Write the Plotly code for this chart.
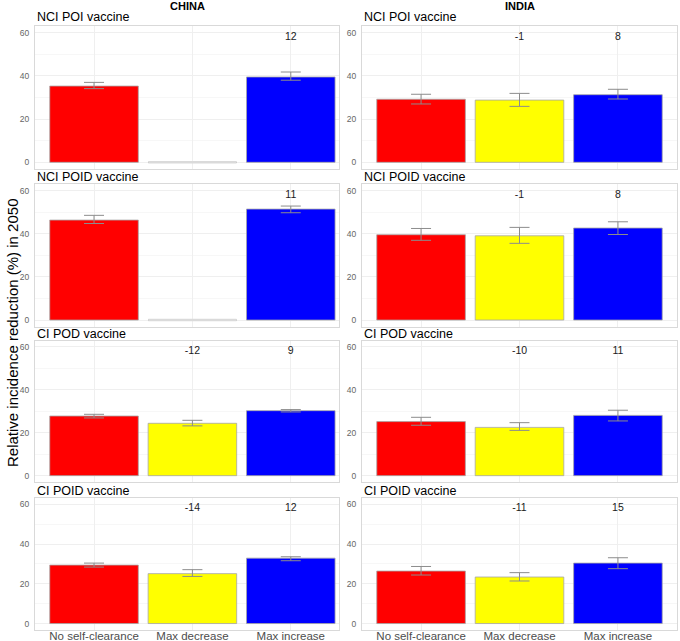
import plotly.graph_objects as go

W, H = 680, 641

CATEGORIES = ["No self-clearance", "Max decrease", "Max increase"]
BAR_COLORS = ["#ff0000", "#ffff00", "#0000ff"]
COUNTRIES = ["CHINA", "INDIA"]
VACCINES = ["NCI POI vaccine", "NCI POID vaccine", "CI POD vaccine", "CI POID vaccine"]

# values (% relative incidence reduction in 2050), lower and upper bounds
china_nci_poi = [35.3, 0.0, 39.5]
china_nci_poi_lo = [34.1, None, 38.0]
china_nci_poi_hi = [37.0, None, 41.8]

china_nci_poid = [46.4, 0.0, 51.5]
china_nci_poid_lo = [44.8, None, 49.8]
china_nci_poid_hi = [48.6, None, 52.9]

china_ci_pod = [27.8, 24.4, 30.3]
china_ci_pod_lo = [26.9, 23.2, 29.7]
china_ci_pod_hi = [28.6, 25.8, 30.8]

china_ci_poid = [29.4, 25.1, 32.9]
china_ci_poid_lo = [28.4, 23.7, 31.6]
china_ci_poid_hi = [30.4, 27.1, 33.6]

india_nci_poi = [29.2, 28.8, 31.3]
india_nci_poi_lo = [27.0, 25.9, 29.3]
india_nci_poi_hi = [31.5, 31.9, 33.8]

india_nci_poid = [39.6, 39.1, 42.7]
india_nci_poid_lo = [37.0, 35.6, 39.7]
india_nci_poid_hi = [42.5, 43.0, 45.6]

india_ci_pod = [25.2, 22.5, 28.1]
india_ci_pod_lo = [23.5, 21.1, 25.5]
india_ci_pod_hi = [27.2, 24.7, 30.5]

india_ci_poid = [26.4, 23.4, 30.4]
india_ci_poid_lo = [24.4, 21.4, 27.6]
india_ci_poid_hi = [28.7, 25.6, 33.1]

# percent change labels relative to no self-clearance
china_nci_poi_lab = ["", "", "12"]
china_nci_poid_lab = ["", "", "11"]
china_ci_pod_lab = ["", "-12", "9"]
china_ci_poid_lab = ["", "-14", "12"]
india_nci_poi_lab = ["", "-1", "8"]
india_nci_poid_lab = ["", "-1", "8"]
india_ci_pod_lab = ["", "-10", "11"]
india_ci_poid_lab = ["", "-11", "15"]

LABEL_Y = 57.8
Y_TICKS = [0, 20, 40, 60]

panels = [
    [(china_nci_poi, china_nci_poi_lo, china_nci_poi_hi, china_nci_poi_lab),
     (india_nci_poi, india_nci_poi_lo, india_nci_poi_hi, india_nci_poi_lab)],
    [(china_nci_poid, china_nci_poid_lo, china_nci_poid_hi, china_nci_poid_lab),
     (india_nci_poid, india_nci_poid_lo, india_nci_poid_hi, india_nci_poid_lab)],
    [(china_ci_pod, china_ci_pod_lo, china_ci_pod_hi, china_ci_pod_lab),
     (india_ci_pod, india_ci_pod_lo, india_ci_pod_hi, india_ci_pod_lab)],
    [(china_ci_poid, china_ci_poid_lo, china_ci_poid_hi, china_ci_poid_lab),
     (india_ci_poid, india_ci_poid_lo, india_ci_poid_hi, india_ci_poid_lab)],
]

# layout in pixels
COL_X = [(35, 339), (362, 677)]
COL_XRANGE = [[-0.6, 2.49], [-0.6, 2.6]]
ROW_Y = [(26.2, 168.8), (184.3, 326.5), (340.5, 482.1), (498.3, 629.5)]
TITLE_Y = [17, 177, 334, 491]

FONT = "Liberation Sans, Arial, sans-serif"

def px_x(x):
    return x / W

def px_y(y):
    return 1 - y / H

fig = go.Figure()
layout = {}
annotations = []

for r in range(4):
    for c in range(2):
        k = r * 2 + c + 1
        xa = "x" if k == 1 else f"x{k}"
        ya = "y" if k == 1 else f"y{k}"
        vals, lo, hi, labs = panels[r][c]
        err_p = [(h - v) if h is not None else float("nan") for v, h in zip(vals, hi)]
        err_m = [(v - l) if l is not None else float("nan") for v, l in zip(vals, lo)]
        fig.add_trace(go.Bar(
            x=CATEGORIES, y=vals, xaxis=xa, yaxis=ya,
            marker=dict(color=BAR_COLORS, line=dict(color="#a6a6a6", width=0.8)),
            width=0.9,
            error_y=dict(type="data", symmetric=False, array=err_p, arrayminus=err_m,
                         color="#8c8c8c", thickness=1, width=10),
            showlegend=False, hoverinfo="x+y",
        ))
        # zero-height bars drawn as a flat outline
        zx = [cat for cat, v in zip(CATEGORIES, vals) if v == 0]
        zy = [v for v in vals if v == 0]
        if zx:
            fig.add_trace(go.Scatter(
                x=zx, y=zy, xaxis=xa, yaxis=ya, mode="markers",
                marker=dict(symbol="line-ew", size=63, line=dict(width=2.5, color="#dadada")),
                showlegend=False, hoverinfo="skip",
            ))
        fig.add_trace(go.Scatter(
            x=CATEGORIES, y=[LABEL_Y] * 3, text=labs, mode="text",
            xaxis=xa, yaxis=ya, textfont=dict(size=10.5, color="#1a1a1a", family=FONT),
            showlegend=False, hoverinfo="skip",
        ))
        x0, x1 = COL_X[c]
        y0, y1 = ROW_Y[r]
        layout["xaxis" if k == 1 else f"xaxis{k}"] = dict(
            domain=[px_x(x0), px_x(x1)], anchor=ya, type="category",
            categoryorder="array", categoryarray=CATEGORIES,
            range=COL_XRANGE[c], showgrid=True, gridcolor="#efefef", gridwidth=1,
            showline=True, mirror=True, linecolor="#d9d9d9", linewidth=1,
            ticks="", showticklabels=(r == 3), ticklabelstandoff=-4,
            tickfont=dict(size=11.5, color="#4d4d4d", family=FONT),
            zeroline=False, fixedrange=True, automargin=False,
        )
        layout["yaxis" if k == 1 else f"yaxis{k}"] = dict(
            domain=[px_y(y1), px_y(y0)], anchor=xa, range=[-3, 63],
            tickvals=Y_TICKS, showgrid=True, gridcolor="#efefef", gridwidth=1,
            minor=dict(tickvals=[10, 30, 50], showgrid=True, gridcolor="#f7f7f7"),
            showline=True, mirror=True, linecolor="#d9d9d9", linewidth=1,
            ticks="", ticklabelstandoff=3,
            tickfont=dict(size=8.5, color="#666666", family=FONT),
            zeroline=False, fixedrange=True, automargin=False,
        )
        annotations.append(dict(
            text=VACCINES[r], xref="paper", yref="paper",
            x=px_x(x0), y=px_y(TITLE_Y[r]), xanchor="left", yanchor="middle",
            showarrow=False, font=dict(size=12.5, color="#000000", family=FONT),
        ))

for c in range(2):
    x0, x1 = COL_X[c]
    annotations.append(dict(
        text=f"<b>{COUNTRIES[c]}</b>", xref="paper", yref="paper",
        x=px_x((x0 + x1) / 2), y=px_y(6), xanchor="center", yanchor="middle",
        showarrow=False, font=dict(size=11, color="#000000", family=FONT),
    ))

annotations.append(dict(
    text="Relative incidence reduction (%) in 2050", xref="paper", yref="paper",
    x=px_x(12), y=px_y(333), xanchor="center", yanchor="middle", textangle=-90,
    showarrow=False, font=dict(size=15, color="#000000", family=FONT),
))

fig.update_layout(
    width=W, height=H, margin=dict(l=0, r=0, t=0, b=0),
    paper_bgcolor="white", plot_bgcolor="white",
    barmode="group", bargap=0.1,
    annotations=annotations, font=dict(family=FONT),
    **layout,
)

fig.write_html(
    "out.html",
    config={"displayModeBar": False},
    post_script="document.body.style.margin='0';document.body.style.overflow='hidden';",
)
